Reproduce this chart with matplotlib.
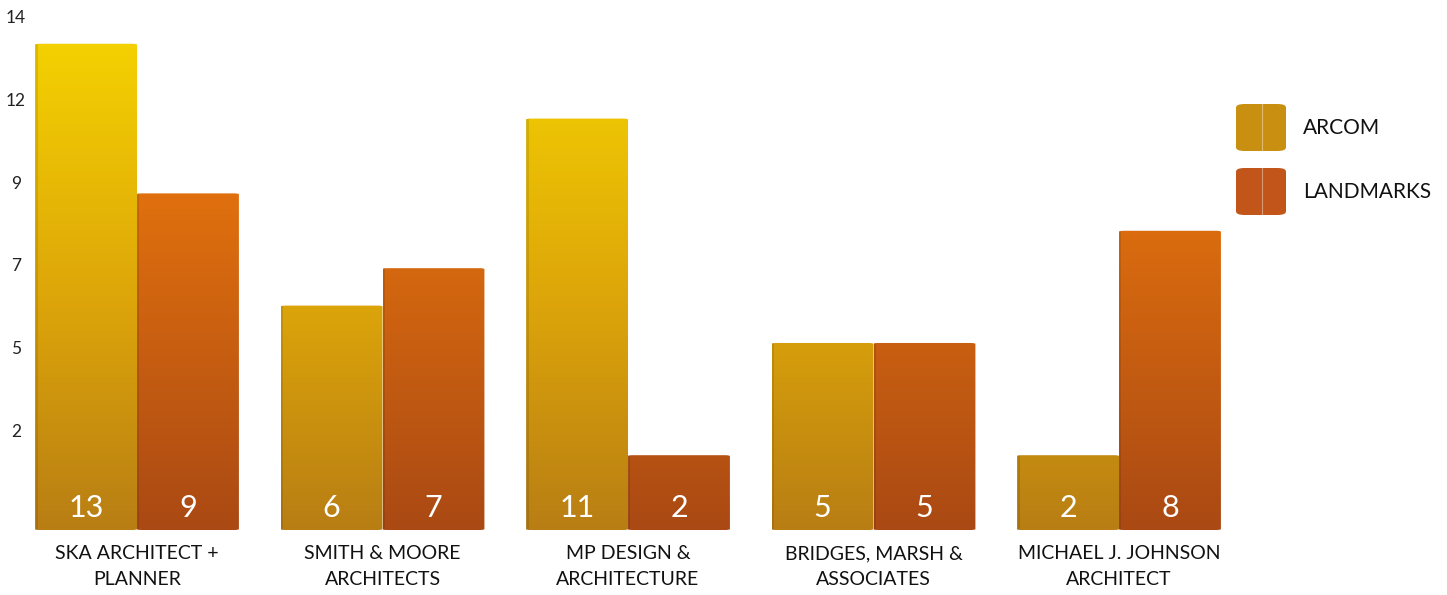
import numpy as np
import matplotlib
matplotlib.use("Agg")
import matplotlib.pyplot as plt
from matplotlib.patches import FancyBboxPatch
from matplotlib.colors import LinearSegmentedColormap

# ---- data ----
categories = ["SKA ARCHITECT +\nPLANNER", "SMITH & MOORE\nARCHITECTS",
              "MP DESIGN &\nARCHITECTURE", "BRIDGES, MARSH &\nASSOCIATES",
              "MICHAEL J. JOHNSON\nARCHITECT"]
series_names = ["ARCOM", "LANDMARKS"]
arcom = [13, 6, 11, 5, 2]
landmarks = [9, 7, 2, 5, 8]
ytick_pos = [2.65, 4.88, 7.1, 9.3, 11.5, 13.72]
ytick_labels = ["2", "5", "7", "9", "12", "14"]

plt.rcParams['font.family'] = ['Lato', 'DejaVu Sans']

W, H = 1447, 595
fig = plt.figure(figsize=(W / 100, H / 100), dpi=100)
# axes: px 30..1230 horizontally, 0..530 vertically
ax = fig.add_axes([30 / W, (H - 530) / H, 1200 / W, 530 / H])
ax.set_xlim(-0.436, 4.452)
ax.set_ylim(0, 14.17)

x = np.arange(len(categories))
bw = 0.415
cmaps = [
    LinearSegmentedColormap.from_list("arc", [(0, "#B87E14"), (0.42, "#DCA40A"), (1.0, "#F8D800")]),
    LinearSegmentedColormap.from_list("lan", [(0, "#AA4914"), (0.63, "#E0700E"), (1.0, "#EA7A0C")]),
]

grad = np.linspace(0, 1, 256).reshape(-1, 1)
for si, (vals, cmap) in enumerate(zip([arcom, landmarks], cmaps)):
    offs = -bw / 2 if si == 0 else bw / 2
    bars = ax.bar(x + offs, vals, width=bw, color="none", edgecolor="none")
    for b, v in zip(bars, vals):
        bx, bwid, bh = b.get_x(), b.get_width(), b.get_height()
        clip = FancyBboxPatch((bx, 0), bwid, bh,
                              boxstyle="round,pad=0,rounding_size=0.02",
                              mutation_aspect=14.17 / 4.888 * 530 / 1200,
                              transform=ax.transData, facecolor="none", edgecolor="none")
        ax.add_patch(clip)
        im = ax.imshow(grad, extent=[bx, bx + bwid, 0, 14.17], origin="lower",
                       cmap=cmap, aspect="auto", zorder=2, vmin=0, vmax=1)
        im.set_clip_path(clip)
        # subtle left-edge shade
        ax.bar(bx + bwid * 0.012, bh, width=bwid * 0.024, color="black", alpha=0.10, zorder=3)
        ax.text(bx + bwid / 2, 0.58, str(v), ha="center", va="center", color="white",
                fontsize=22, fontweight="normal", zorder=4)

ax.set_xticks(x)
ax.set_xticklabels(categories, fontsize=14, color="#111111", linespacing=1.62)
ax.set_yticks(ytick_pos)
ax.set_yticklabels(ytick_labels, fontsize=12.5, color="#222222")
ax.tick_params(axis="x", length=0, pad=11)
ax.tick_params(axis="y", length=0)
for lab in ax.get_yticklabels():
    lab.set_horizontalalignment("center")
ax.yaxis.set_tick_params(pad=10)
for s in ax.spines.values():
    s.set_visible(False)

# legend
leg_colors = ["#C98F10", "#C2561A"]
for i, (name, c) in enumerate(zip(series_names, leg_colors)):
    y0 = (H - 151 - i * 64) / H
    p = FancyBboxPatch((1236 / W, y0), 50 / W, 47 / H,
                       boxstyle="round,pad=0,rounding_size=0.006",
                       transform=fig.transFigure, facecolor=c, edgecolor="none")
    fig.patches.append(p)
    fig.add_artist(plt.Line2D([1262 / W, 1262 / W], [y0, y0 + 47 / H],
                              transform=fig.transFigure, color="white", alpha=0.4, lw=0.8))
    fig.text(1303 / W, y0 + 23.5 / H, name, ha="left", va="center", fontsize=15, color="#111111")

fig.savefig("out.png", dpi=100)
